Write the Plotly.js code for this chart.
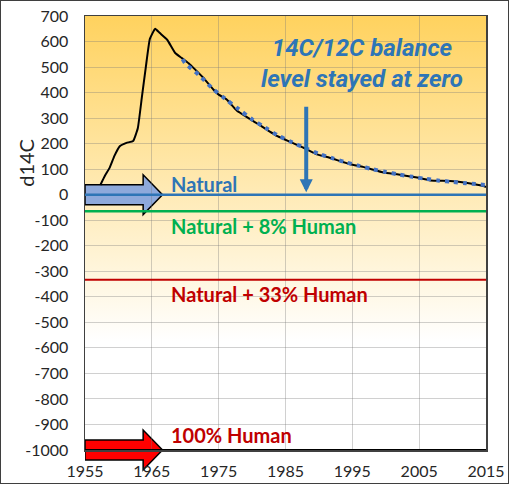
<!DOCTYPE html>
<html>
<head>
<meta charset="utf-8">
<script src="https://cdn.plot.ly/plotly-3.0.1.min.js"></script>
<style>
  html, body { margin: 0; padding: 0; background: #ffffff; }
  #wrap { position: relative; width: 510px; height: 485px; }
  #chart { position: absolute; left: 0; top: 0; width: 510px; height: 485px; }
  #frame { position: absolute; left: 0; top: 0; width: 509px; height: 484px; box-sizing: border-box;
           border: 1.5px solid #3f3f3f; pointer-events: none; }
</style>
</head>
<body>
<div id="wrap"><div id="chart"></div><div id="frame"></div></div>
<script>
// ---- data ----
const curveYears = [1957.3, 1958, 1958.7, 1959.4, 1960.2, 1961.2, 1962.2, 1962.9, 1963.5, 1964.1, 1964.7,
  1965.5, 1966.2, 1967.3, 1968.5, 1969.5, 1970.5, 1971.5, 1972.7, 1974.2, 1975, 1976.2, 1977.7, 1980.7,
  1983.7, 1987.7, 1989.7, 1991.6, 1994.7, 1996.6, 1999.7, 2001.7, 2004.7, 2006.7, 2009.6, 2011.7, 2014.6, 2015];
const curveD14C = [38, 75, 106, 152, 190, 203, 210, 260, 380, 500, 610,
  650, 633, 607, 555, 535, 515, 490, 458, 412, 392, 373, 330, 280,
  230, 184, 158, 145, 119, 109, 87, 80, 67, 56, 54, 48, 34, 30];

const fitYears = [1969.6, 1970, 1972, 1974, 1976, 1978, 1980, 1982, 1984, 1986, 1988, 1990, 1992, 1994,
  1996, 1998, 2000, 2002, 2004, 2006, 2008, 2010, 2012, 2015];
const fitD14C = [531, 515, 470, 418, 375, 335, 295, 262, 230, 205, 182, 160, 143, 127,
  113, 100, 89, 79, 70, 62, 55, 50, 45, 38];

const levelNames = ['Natural', 'Natural + 8% Human', 'Natural + 33% Human', '100% Human'];
const levelValues = [0, -65, -333, -1000];

const xTickValues = [1955, 1965, 1975, 1985, 1995, 2005, 2015];
const xTickLabels = ['1955', '1965', '1975', '1985', '1995', '2005', '2015'];
const yTickValues = [700, 600, 500, 400, 300, 200, 100, 0, -100, -200, -300, -400, -500, -600, -700, -800, -900, -1000];
const yTickLabels = ['700', '600', '500', '400', '300', '200', '100', '0', '-100', '-200', '-300', '-400', '-500', '-600', '-700', '-800', '-900', '-1000'];

const yAxisTitle = 'd14C';
const headline = '14C/12C balance<br>level stayed at zero';

// ---- styling ----
const X_RANGE = [1955, 2015];
const Y_RANGE = [-1000, 700];
const levelColors = ['#2E75B6', '#00B050', '#C00000', '#000000'];
const levelWidths = [2.5, 2.5, 2, 2.2];
const labelColors = ['#2E75B6', '#00B050', '#C00000', '#C00000'];
const labelYs = [41, -123, -390, -942];   // label placement (data units)
const LABEL_X = 1967.6;
const BLUE = '#2E75B6';

const traces = [];
levelValues.forEach((v, i) => {
  traces.push({
    type: 'scatter', mode: 'lines', x: X_RANGE, y: [v, v],
    line: {color: levelColors[i], width: levelWidths[i]}, hoverinfo: 'skip'
  });
});
traces.push({
  type: 'scatter', mode: 'lines', x: curveYears, y: curveD14C,
  line: {color: '#000000', width: 2, shape: 'spline', smoothing: 0.35}
});
traces.push({
  type: 'scatter', mode: 'lines', x: fitYears, y: fitD14C,
  line: {color: '#4472C4', width: 4, dash: '4px,5px', shape: 'spline', smoothing: 0.8}
});

// block arrows at the Natural and 100% Human levels
const yf = v => (v - Y_RANGE[0]) / (Y_RANGE[1] - Y_RANGE[0]);
function blockArrow(level, fill) {
  const bodyHalf = 39, headHalf = 78, bodyEnd = 1963.7, tip = 1966.6, x0 = X_RANGE[0];
  const p = `M ${x0},${yf(level + bodyHalf)} L ${bodyEnd},${yf(level + bodyHalf)} L ${bodyEnd},${yf(level + headHalf)} ` +
            `L ${tip},${yf(level)} L ${bodyEnd},${yf(level - headHalf)} L ${bodyEnd},${yf(level - bodyHalf)} ` +
            `L ${x0},${yf(level - bodyHalf)} Z`;
  return {type: 'path', xref: 'x', yref: 'paper', path: p, fillcolor: fill,
          line: {color: '#000000', width: 1.5}, layer: 'below'};
}

const annotations = levelNames.map((name, i) => ({
  x: LABEL_X, y: labelYs[i], xref: 'x', yref: 'y', xanchor: 'left', yanchor: 'middle',
  text: name, showarrow: false,
  font: {family: 'Lato, sans-serif', size: 20, color: labelColors[i], weight: 'bold'}
}));
annotations.push({
  x: 1996.5, y: 515, xref: 'x', yref: 'y', xanchor: 'center', yanchor: 'middle',
  text: headline, showarrow: false,
  font: {family: 'Roboto, sans-serif', size: 24, color: BLUE, weight: 'bold', style: 'italic'}
});
annotations.push({
  x: 1988.1, y: 10, xref: 'x', yref: 'y', text: '', showarrow: true,
  ax: 0, ay: -87, arrowhead: 2, arrowsize: 0.65, arrowwidth: 4, arrowcolor: BLUE
});
annotations.push({
  x: 0, xref: 'paper', xshift: -59, y: 125, yref: 'y', text: yAxisTitle, textangle: -90,
  showarrow: false, xanchor: 'center', yanchor: 'middle',
  font: {family: 'Lato, sans-serif', size: 20, color: '#262626'}
});

const gradSvg = '<svg xmlns="http://www.w3.org/2000/svg" width="100" height="100" preserveAspectRatio="none">' +
  '<defs><linearGradient id="g" x1="0" y1="0" x2="0" y2="1">' +
  '<stop offset="0" stop-color="#FFD25E"/><stop offset="0.75" stop-color="#FFFFFF"/>' +
  '<stop offset="1" stop-color="#FFFFFF"/></linearGradient></defs>' +
  '<rect width="100" height="100" fill="url(#g)"/></svg>';

const gridColor = 'rgba(120,120,120,0.35)';
const layout = {
  width: 510, height: 485,
  margin: {l: 85, r: 24, t: 16, b: 35},
  paper_bgcolor: '#ffffff', plot_bgcolor: 'rgba(0,0,0,0)',
  showlegend: false,
  font: {family: 'Lato, sans-serif', color: '#262626'},
  xaxis: {
    range: X_RANGE, tickmode: 'array', tickvals: xTickValues, ticktext: xTickLabels,
    showgrid: true, gridcolor: gridColor, gridwidth: 1, zeroline: false,
    showline: true, mirror: true, linecolor: '#404040', linewidth: 1.5, ticks: '',
    ticklabelstandoff: 6,
    tickfont: {family: 'Lato, sans-serif', size: 16, color: '#262626'}
  },
  yaxis: {
    range: Y_RANGE, tickmode: 'array', tickvals: yTickValues, ticktext: yTickLabels,
    showgrid: true, gridcolor: gridColor, gridwidth: 1, zeroline: false,
    showline: true, mirror: true, linecolor: '#404040', linewidth: 1.5, ticks: '',
    ticklabelstandoff: 12,
    tickfont: {family: 'Lato, sans-serif', size: 16, color: '#262626'}
  },
  images: [{
    source: 'data:image/svg+xml;charset=utf-8,' + encodeURIComponent(gradSvg),
    xref: 'paper', yref: 'paper', x: 0, y: 1, sizex: 1, sizey: 1,
    xanchor: 'left', yanchor: 'top', sizing: 'stretch', layer: 'below'
  }],
  shapes: [blockArrow(levelValues[0], '#8EA9DB'), blockArrow(levelValues[3], '#FF0000')],
  annotations: annotations
};

Plotly.newPlot('chart', traces, layout, {staticPlot: true, displayModeBar: false});
</script>
</body>
</html>
